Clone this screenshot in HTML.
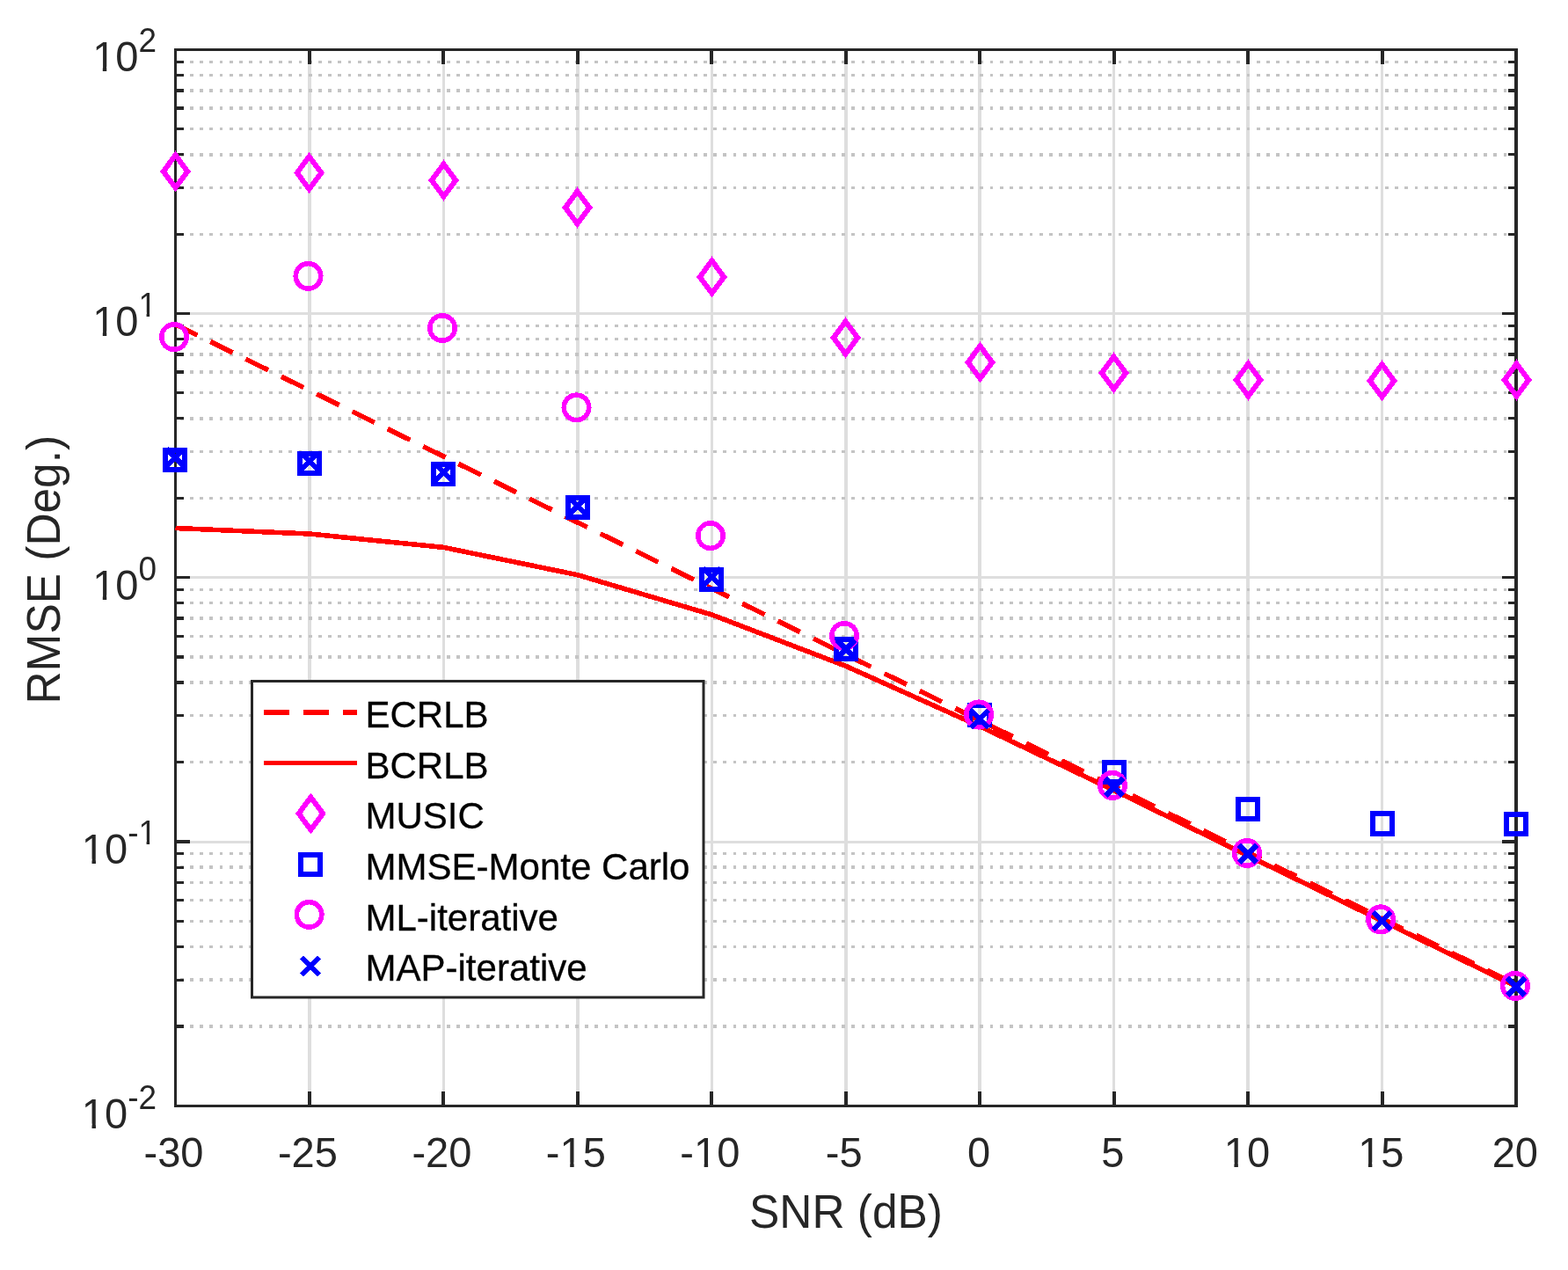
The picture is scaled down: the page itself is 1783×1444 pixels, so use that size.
<!DOCTYPE html>
<html><head><meta charset="utf-8"><title>RMSE vs SNR</title>
<style>html,body{margin:0;padding:0;background:#fff;overflow:hidden;}svg{display:block;}text{font-family:"Liberation Sans", Arial, Helvetica, sans-serif;}</style>
</head><body>
<svg width="1783" height="1444" viewBox="0 0 1783 1444">
<rect width="1783" height="1444" fill="#fff"/>
<g shape-rendering="crispEdges">
<g stroke="#dedede" fill="none">
<line x1="351.95" y1="56.45" x2="351.95" y2="1257.45" stroke-width="3.6"/>
<line x1="504.4" y1="56.45" x2="504.4" y2="1257.45" stroke-width="3.6"/>
<line x1="656.85" y1="56.45" x2="656.85" y2="1257.45" stroke-width="3.6"/>
<line x1="809.3" y1="56.45" x2="809.3" y2="1257.45" stroke-width="3.6"/>
<line x1="961.75" y1="56.45" x2="961.75" y2="1257.45" stroke-width="3.6"/>
<line x1="1114.2" y1="56.45" x2="1114.2" y2="1257.45" stroke-width="3.6"/>
<line x1="1266.65" y1="56.45" x2="1266.65" y2="1257.45" stroke-width="3.6"/>
<line x1="1419.1" y1="56.45" x2="1419.1" y2="1257.45" stroke-width="3.6"/>
<line x1="1571.55" y1="56.45" x2="1571.55" y2="1257.45" stroke-width="3.6"/>
<line x1="199.5" y1="356.5" x2="1724" y2="356.5" stroke-width="3"/>
<line x1="199.5" y1="656.5" x2="1724" y2="656.5" stroke-width="3"/>
<line x1="199.5" y1="957" x2="1724" y2="957" stroke-width="3"/>
</g>
<g stroke="#c4c4c4" stroke-width="3.3" fill="none" stroke-dasharray="3.8 7.43">
<line x1="204.77" y1="266.19" x2="1724" y2="266.19"/>
<line x1="204.77" y1="213.36" x2="1724" y2="213.36"/>
<line x1="204.77" y1="175.88" x2="1724" y2="175.88"/>
<line x1="204.77" y1="146.81" x2="1724" y2="146.81"/>
<line x1="204.77" y1="123.05" x2="1724" y2="123.05"/>
<line x1="204.77" y1="102.97" x2="1724" y2="102.97"/>
<line x1="204.77" y1="85.57" x2="1724" y2="85.57"/>
<line x1="204.77" y1="70.23" x2="1724" y2="70.23"/>
<line x1="204.77" y1="566.19" x2="1724" y2="566.19"/>
<line x1="204.77" y1="513.36" x2="1724" y2="513.36"/>
<line x1="204.77" y1="475.88" x2="1724" y2="475.88"/>
<line x1="204.77" y1="446.81" x2="1724" y2="446.81"/>
<line x1="204.77" y1="423.05" x2="1724" y2="423.05"/>
<line x1="204.77" y1="402.97" x2="1724" y2="402.97"/>
<line x1="204.77" y1="385.57" x2="1724" y2="385.57"/>
<line x1="204.77" y1="370.23" x2="1724" y2="370.23"/>
<line x1="204.77" y1="866.54" x2="1724" y2="866.54"/>
<line x1="204.77" y1="813.63" x2="1724" y2="813.63"/>
<line x1="204.77" y1="776.08" x2="1724" y2="776.08"/>
<line x1="204.77" y1="746.96" x2="1724" y2="746.96"/>
<line x1="204.77" y1="723.17" x2="1724" y2="723.17"/>
<line x1="204.77" y1="703.05" x2="1724" y2="703.05"/>
<line x1="204.77" y1="685.62" x2="1724" y2="685.62"/>
<line x1="204.77" y1="670.25" x2="1724" y2="670.25"/>
<line x1="204.77" y1="1167.01" x2="1724" y2="1167.01"/>
<line x1="204.77" y1="1114.1" x2="1724" y2="1114.1"/>
<line x1="204.77" y1="1076.56" x2="1724" y2="1076.56"/>
<line x1="204.77" y1="1047.44" x2="1724" y2="1047.44"/>
<line x1="204.77" y1="1023.65" x2="1724" y2="1023.65"/>
<line x1="204.77" y1="1003.54" x2="1724" y2="1003.54"/>
<line x1="204.77" y1="986.12" x2="1724" y2="986.12"/>
<line x1="204.77" y1="970.75" x2="1724" y2="970.75"/>
</g>
<g stroke="#262626" fill="none" stroke-linecap="butt">
<line x1="199.5" y1="1257.45" x2="199.5" y2="1241.05" stroke-width="3.9"/>
<line x1="199.5" y1="56.45" x2="199.5" y2="72.85" stroke-width="3.9"/>
<line x1="351.95" y1="1257.45" x2="351.95" y2="1241.05" stroke-width="3.9"/>
<line x1="351.95" y1="56.45" x2="351.95" y2="72.85" stroke-width="3.9"/>
<line x1="504.4" y1="1257.45" x2="504.4" y2="1241.05" stroke-width="3.9"/>
<line x1="504.4" y1="56.45" x2="504.4" y2="72.85" stroke-width="3.9"/>
<line x1="656.85" y1="1257.45" x2="656.85" y2="1241.05" stroke-width="3.9"/>
<line x1="656.85" y1="56.45" x2="656.85" y2="72.85" stroke-width="3.9"/>
<line x1="809.3" y1="1257.45" x2="809.3" y2="1241.05" stroke-width="3.9"/>
<line x1="809.3" y1="56.45" x2="809.3" y2="72.85" stroke-width="3.9"/>
<line x1="961.75" y1="1257.45" x2="961.75" y2="1241.05" stroke-width="3.9"/>
<line x1="961.75" y1="56.45" x2="961.75" y2="72.85" stroke-width="3.9"/>
<line x1="1114.2" y1="1257.45" x2="1114.2" y2="1241.05" stroke-width="3.9"/>
<line x1="1114.2" y1="56.45" x2="1114.2" y2="72.85" stroke-width="3.9"/>
<line x1="1266.65" y1="1257.45" x2="1266.65" y2="1241.05" stroke-width="3.9"/>
<line x1="1266.65" y1="56.45" x2="1266.65" y2="72.85" stroke-width="3.9"/>
<line x1="1419.1" y1="1257.45" x2="1419.1" y2="1241.05" stroke-width="3.9"/>
<line x1="1419.1" y1="56.45" x2="1419.1" y2="72.85" stroke-width="3.9"/>
<line x1="1571.55" y1="1257.45" x2="1571.55" y2="1241.05" stroke-width="3.9"/>
<line x1="1571.55" y1="56.45" x2="1571.55" y2="72.85" stroke-width="3.9"/>
<line x1="1724" y1="1257.45" x2="1724" y2="1241.05" stroke-width="3.9"/>
<line x1="1724" y1="56.45" x2="1724" y2="72.85" stroke-width="3.9"/>
<line x1="199.5" y1="56.5" x2="215.9" y2="56.5" stroke-width="3.2"/>
<line x1="1724" y1="56.5" x2="1707.6" y2="56.5" stroke-width="3.2"/>
<line x1="199.5" y1="356.5" x2="215.9" y2="356.5" stroke-width="3.2"/>
<line x1="1724" y1="356.5" x2="1707.6" y2="356.5" stroke-width="3.2"/>
<line x1="199.5" y1="656.5" x2="215.9" y2="656.5" stroke-width="3.2"/>
<line x1="1724" y1="656.5" x2="1707.6" y2="656.5" stroke-width="3.2"/>
<line x1="199.5" y1="957" x2="215.9" y2="957" stroke-width="3.2"/>
<line x1="1724" y1="957" x2="1707.6" y2="957" stroke-width="3.2"/>
<line x1="199.5" y1="1257.45" x2="215.9" y2="1257.45" stroke-width="3.2"/>
<line x1="1724" y1="1257.45" x2="1707.6" y2="1257.45" stroke-width="3.2"/>
<line x1="199.5" y1="266.19" x2="208.9" y2="266.19" stroke-width="3.2"/>
<line x1="1724" y1="266.19" x2="1714.6" y2="266.19" stroke-width="3.2"/>
<line x1="199.5" y1="213.36" x2="208.9" y2="213.36" stroke-width="3.2"/>
<line x1="1724" y1="213.36" x2="1714.6" y2="213.36" stroke-width="3.2"/>
<line x1="199.5" y1="175.88" x2="208.9" y2="175.88" stroke-width="3.2"/>
<line x1="1724" y1="175.88" x2="1714.6" y2="175.88" stroke-width="3.2"/>
<line x1="199.5" y1="146.81" x2="208.9" y2="146.81" stroke-width="3.2"/>
<line x1="1724" y1="146.81" x2="1714.6" y2="146.81" stroke-width="3.2"/>
<line x1="199.5" y1="123.05" x2="208.9" y2="123.05" stroke-width="3.2"/>
<line x1="1724" y1="123.05" x2="1714.6" y2="123.05" stroke-width="3.2"/>
<line x1="199.5" y1="102.97" x2="208.9" y2="102.97" stroke-width="3.2"/>
<line x1="1724" y1="102.97" x2="1714.6" y2="102.97" stroke-width="3.2"/>
<line x1="199.5" y1="85.57" x2="208.9" y2="85.57" stroke-width="3.2"/>
<line x1="1724" y1="85.57" x2="1714.6" y2="85.57" stroke-width="3.2"/>
<line x1="199.5" y1="70.23" x2="208.9" y2="70.23" stroke-width="3.2"/>
<line x1="1724" y1="70.23" x2="1714.6" y2="70.23" stroke-width="3.2"/>
<line x1="199.5" y1="566.19" x2="208.9" y2="566.19" stroke-width="3.2"/>
<line x1="1724" y1="566.19" x2="1714.6" y2="566.19" stroke-width="3.2"/>
<line x1="199.5" y1="513.36" x2="208.9" y2="513.36" stroke-width="3.2"/>
<line x1="1724" y1="513.36" x2="1714.6" y2="513.36" stroke-width="3.2"/>
<line x1="199.5" y1="475.88" x2="208.9" y2="475.88" stroke-width="3.2"/>
<line x1="1724" y1="475.88" x2="1714.6" y2="475.88" stroke-width="3.2"/>
<line x1="199.5" y1="446.81" x2="208.9" y2="446.81" stroke-width="3.2"/>
<line x1="1724" y1="446.81" x2="1714.6" y2="446.81" stroke-width="3.2"/>
<line x1="199.5" y1="423.05" x2="208.9" y2="423.05" stroke-width="3.2"/>
<line x1="1724" y1="423.05" x2="1714.6" y2="423.05" stroke-width="3.2"/>
<line x1="199.5" y1="402.97" x2="208.9" y2="402.97" stroke-width="3.2"/>
<line x1="1724" y1="402.97" x2="1714.6" y2="402.97" stroke-width="3.2"/>
<line x1="199.5" y1="385.57" x2="208.9" y2="385.57" stroke-width="3.2"/>
<line x1="1724" y1="385.57" x2="1714.6" y2="385.57" stroke-width="3.2"/>
<line x1="199.5" y1="370.23" x2="208.9" y2="370.23" stroke-width="3.2"/>
<line x1="1724" y1="370.23" x2="1714.6" y2="370.23" stroke-width="3.2"/>
<line x1="199.5" y1="866.54" x2="208.9" y2="866.54" stroke-width="3.2"/>
<line x1="1724" y1="866.54" x2="1714.6" y2="866.54" stroke-width="3.2"/>
<line x1="199.5" y1="813.63" x2="208.9" y2="813.63" stroke-width="3.2"/>
<line x1="1724" y1="813.63" x2="1714.6" y2="813.63" stroke-width="3.2"/>
<line x1="199.5" y1="776.08" x2="208.9" y2="776.08" stroke-width="3.2"/>
<line x1="1724" y1="776.08" x2="1714.6" y2="776.08" stroke-width="3.2"/>
<line x1="199.5" y1="746.96" x2="208.9" y2="746.96" stroke-width="3.2"/>
<line x1="1724" y1="746.96" x2="1714.6" y2="746.96" stroke-width="3.2"/>
<line x1="199.5" y1="723.17" x2="208.9" y2="723.17" stroke-width="3.2"/>
<line x1="1724" y1="723.17" x2="1714.6" y2="723.17" stroke-width="3.2"/>
<line x1="199.5" y1="703.05" x2="208.9" y2="703.05" stroke-width="3.2"/>
<line x1="1724" y1="703.05" x2="1714.6" y2="703.05" stroke-width="3.2"/>
<line x1="199.5" y1="685.62" x2="208.9" y2="685.62" stroke-width="3.2"/>
<line x1="1724" y1="685.62" x2="1714.6" y2="685.62" stroke-width="3.2"/>
<line x1="199.5" y1="670.25" x2="208.9" y2="670.25" stroke-width="3.2"/>
<line x1="1724" y1="670.25" x2="1714.6" y2="670.25" stroke-width="3.2"/>
<line x1="199.5" y1="1167.01" x2="208.9" y2="1167.01" stroke-width="3.2"/>
<line x1="1724" y1="1167.01" x2="1714.6" y2="1167.01" stroke-width="3.2"/>
<line x1="199.5" y1="1114.1" x2="208.9" y2="1114.1" stroke-width="3.2"/>
<line x1="1724" y1="1114.1" x2="1714.6" y2="1114.1" stroke-width="3.2"/>
<line x1="199.5" y1="1076.56" x2="208.9" y2="1076.56" stroke-width="3.2"/>
<line x1="1724" y1="1076.56" x2="1714.6" y2="1076.56" stroke-width="3.2"/>
<line x1="199.5" y1="1047.44" x2="208.9" y2="1047.44" stroke-width="3.2"/>
<line x1="1724" y1="1047.44" x2="1714.6" y2="1047.44" stroke-width="3.2"/>
<line x1="199.5" y1="1023.65" x2="208.9" y2="1023.65" stroke-width="3.2"/>
<line x1="1724" y1="1023.65" x2="1714.6" y2="1023.65" stroke-width="3.2"/>
<line x1="199.5" y1="1003.54" x2="208.9" y2="1003.54" stroke-width="3.2"/>
<line x1="1724" y1="1003.54" x2="1714.6" y2="1003.54" stroke-width="3.2"/>
<line x1="199.5" y1="986.12" x2="208.9" y2="986.12" stroke-width="3.2"/>
<line x1="1724" y1="986.12" x2="1714.6" y2="986.12" stroke-width="3.2"/>
<line x1="199.5" y1="970.75" x2="208.9" y2="970.75" stroke-width="3.2"/>
<line x1="1724" y1="970.75" x2="1714.6" y2="970.75" stroke-width="3.2"/>
</g>
<g fill="#262626">
<rect x="198" y="55" width="1528" height="3"/>
<rect x="198" y="1256" width="1528" height="3"/>
<rect x="198" y="55" width="3" height="1204"/>
<rect x="1722" y="55" width="4" height="1204"/>
</g>
</g>
<g shape-rendering="crispEdges">
<line x1="199.5" y1="368.9" x2="1724" y2="1119.4" stroke="#ff0000" stroke-width="5.6" stroke-dasharray="28.3 16.65" stroke-dashoffset="0.67" fill="none"/>
<polyline points="199.5,600.5 351.95,607 504.4,622.4 656.85,653.7 809.3,698.9 961.75,757.3 1114.2,825.8 1266.65,898.6 1419.1,973 1571.55,1047 1724,1121.5" stroke="#ff0000" stroke-width="5.6" fill="none" stroke-linejoin="miter"/>
<g>
<path d="M199.5 176.4L213.23 194.9L199.5 213.4L185.77 194.9Z" fill="none" stroke="#ff00ff" stroke-width="6" stroke-linejoin="miter" stroke-miterlimit="10"/>
<path d="M351.55 178L365.28 196.5L351.55 215L337.82 196.5Z" fill="none" stroke="#ff00ff" stroke-width="6" stroke-linejoin="miter" stroke-miterlimit="10"/>
<path d="M504.5 186.5L518.23 205L504.5 223.5L490.77 205Z" fill="none" stroke="#ff00ff" stroke-width="6" stroke-linejoin="miter" stroke-miterlimit="10"/>
<path d="M656.5 217.5L670.23 236L656.5 254.5L642.77 236Z" fill="none" stroke="#ff00ff" stroke-width="6" stroke-linejoin="miter" stroke-miterlimit="10"/>
<path d="M809.5 296.4L823.23 314.9L809.5 333.4L795.77 314.9Z" fill="none" stroke="#ff00ff" stroke-width="6" stroke-linejoin="miter" stroke-miterlimit="10"/>
<path d="M961.5 365.5L975.23 384L961.5 402.5L947.77 384Z" fill="none" stroke="#ff00ff" stroke-width="6" stroke-linejoin="miter" stroke-miterlimit="10"/>
<path d="M1114.5 393.4L1128.23 411.9L1114.5 430.4L1100.77 411.9Z" fill="none" stroke="#ff00ff" stroke-width="6" stroke-linejoin="miter" stroke-miterlimit="10"/>
<path d="M1266.5 405.5L1280.23 424L1266.5 442.5L1252.77 424Z" fill="none" stroke="#ff00ff" stroke-width="6" stroke-linejoin="miter" stroke-miterlimit="10"/>
<path d="M1419.5 413.5L1433.23 432L1419.5 450.5L1405.77 432Z" fill="none" stroke="#ff00ff" stroke-width="6" stroke-linejoin="miter" stroke-miterlimit="10"/>
<path d="M1571.5 414.4L1585.23 432.9L1571.5 451.4L1557.77 432.9Z" fill="none" stroke="#ff00ff" stroke-width="6" stroke-linejoin="miter" stroke-miterlimit="10"/>
<path d="M1724.5 413.5L1738.23 432L1724.5 450.5L1710.77 432Z" fill="none" stroke="#ff00ff" stroke-width="6" stroke-linejoin="miter" stroke-miterlimit="10"/>
<rect x="187.8" y="511.7" width="22.4" height="22.4" fill="none" stroke="#0000ff" stroke-width="5.7"/>
<rect x="340.8" y="515.7" width="22.4" height="22.4" fill="none" stroke="#0000ff" stroke-width="5.7"/>
<rect x="492.8" y="528.2" width="22.4" height="22.4" fill="none" stroke="#0000ff" stroke-width="5.7"/>
<rect x="645.8" y="565.8" width="22.4" height="22.4" fill="none" stroke="#0000ff" stroke-width="5.7"/>
<rect x="797.8" y="647.8" width="22.4" height="22.4" fill="none" stroke="#0000ff" stroke-width="5.7"/>
<rect x="950.8" y="726.7" width="22.4" height="22.4" fill="none" stroke="#0000ff" stroke-width="5.7"/>
<rect x="1102.8" y="801.8" width="22.4" height="22.4" fill="none" stroke="#0000ff" stroke-width="5.7"/>
<rect x="1255.8" y="866.8" width="22.4" height="22.4" fill="none" stroke="#0000ff" stroke-width="5.7"/>
<rect x="1407.8" y="908.8" width="22.4" height="22.4" fill="none" stroke="#0000ff" stroke-width="5.7"/>
<rect x="1560.8" y="925.3" width="22.4" height="22.4" fill="none" stroke="#0000ff" stroke-width="5.7"/>
<rect x="1712.8" y="925.8" width="22.4" height="22.4" fill="none" stroke="#0000ff" stroke-width="5.7"/>
<circle cx="198" cy="383.1" r="14.25" fill="none" stroke="#ff00ff" stroke-width="5.6"/>
<circle cx="350.5" cy="313.9" r="14.25" fill="none" stroke="#ff00ff" stroke-width="5.6"/>
<circle cx="503" cy="373" r="14.25" fill="none" stroke="#ff00ff" stroke-width="5.6"/>
<circle cx="655.5" cy="463.4" r="14.25" fill="none" stroke="#ff00ff" stroke-width="5.6"/>
<circle cx="807.95" cy="609.1" r="14.25" fill="none" stroke="#ff00ff" stroke-width="5.6"/>
<circle cx="960" cy="723" r="14.25" fill="none" stroke="#ff00ff" stroke-width="5.6"/>
<circle cx="1113" cy="812.5" r="14.25" fill="none" stroke="#ff00ff" stroke-width="5.6"/>
<circle cx="1265" cy="892.9" r="14.25" fill="none" stroke="#ff00ff" stroke-width="5.6"/>
<circle cx="1417.9" cy="970" r="14.25" fill="none" stroke="#ff00ff" stroke-width="5.6"/>
<circle cx="1570.1" cy="1045.4" r="14.25" fill="none" stroke="#ff00ff" stroke-width="5.6"/>
<circle cx="1722.9" cy="1120.9" r="14.25" fill="none" stroke="#ff00ff" stroke-width="5.6"/>
<path d="M189.4 510.5L209.4 530.5M189.4 530.5L209.4 510.5" stroke="#0000ff" stroke-width="5.8" fill="none" stroke-linecap="butt"/>
<path d="M342 514.6L362 534.6M342 534.6L362 514.6" stroke="#0000ff" stroke-width="5.8" fill="none" stroke-linecap="butt"/>
<path d="M494.5 527.4L514.5 547.4M494.5 547.4L514.5 527.4" stroke="#0000ff" stroke-width="5.8" fill="none" stroke-linecap="butt"/>
<path d="M646.8 565.3L666.8 585.3M646.8 585.3L666.8 565.3" stroke="#0000ff" stroke-width="5.8" fill="none" stroke-linecap="butt"/>
<path d="M799.5 646.3L819.5 666.3M799.5 666.3L819.5 646.3" stroke="#0000ff" stroke-width="5.8" fill="none" stroke-linecap="butt"/>
<path d="M952 728L972 748M952 748L972 728" stroke="#0000ff" stroke-width="5.8" fill="none" stroke-linecap="butt"/>
<path d="M1104.2 807.4L1124.2 827.4M1104.2 827.4L1124.2 807.4" stroke="#0000ff" stroke-width="5.8" fill="none" stroke-linecap="butt"/>
<path d="M1257 885L1277 905M1257 905L1277 885" stroke="#0000ff" stroke-width="5.8" fill="none" stroke-linecap="butt"/>
<path d="M1409 961L1429 981M1409 981L1429 961" stroke="#0000ff" stroke-width="5.8" fill="none" stroke-linecap="butt"/>
<path d="M1561.8 1037L1581.8 1057M1561.8 1057L1581.8 1037" stroke="#0000ff" stroke-width="5.8" fill="none" stroke-linecap="butt"/>
<path d="M1714 1112L1734 1132M1714 1132L1734 1112" stroke="#0000ff" stroke-width="5.8" fill="none" stroke-linecap="butt"/>
</g>
</g>
<g fill="#262626" font-size="49">
<g transform="translate(197.5 1326.9) scale(0.96 1)"><text x="-35.41" y="0">-30</text></g>
<g transform="translate(349.95 1326.9) scale(0.96 1)"><text x="-35.41" y="0">-25</text></g>
<g transform="translate(502.4 1326.9) scale(0.96 1)"><text x="-35.41" y="0">-20</text></g>
<g transform="translate(654.85 1326.9) scale(0.96 1)"><text x="-35.41" y="0">-15</text><g fill="#fff"><rect x="-17.66" y="-5.26" width="10.74" height="6.26"/><rect x="-2.29" y="-5.26" width="10.38" height="6.26"/></g></g>
<g transform="translate(807.3 1326.9) scale(0.96 1)"><text x="-35.41" y="0">-10</text><g fill="#fff"><rect x="-17.66" y="-5.26" width="10.74" height="6.26"/><rect x="-2.29" y="-5.26" width="10.38" height="6.26"/></g></g>
<g transform="translate(959.75 1326.9) scale(0.96 1)"><text x="-21.78" y="0">-5</text></g>
<g transform="translate(1113 1326.9) scale(0.96 1)"><text x="-13.63" y="0">0</text></g>
<g transform="translate(1265.45 1326.9) scale(0.96 1)"><text x="-13.63" y="0">5</text></g>
<g transform="translate(1417.9 1326.9) scale(0.96 1)"><text x="-27.25" y="0">10</text><g fill="#fff"><rect x="-25.82" y="-5.26" width="10.74" height="6.26"/><rect x="-10.45" y="-5.26" width="10.38" height="6.26"/></g></g>
<g transform="translate(1570.35 1326.9) scale(0.96 1)"><text x="-27.25" y="0">15</text><g fill="#fff"><rect x="-25.82" y="-5.26" width="10.74" height="6.26"/><rect x="-10.45" y="-5.26" width="10.38" height="6.26"/></g></g>
<g transform="translate(1722.8 1326.9) scale(0.96 1)"><text x="-27.25" y="0">20</text></g>
<g transform="translate(178 81) scale(0.96 1)"><text x="-75.91" y="0">10<tspan dy="-22.2" font-size="38.5">2</tspan></text><g fill="#fff"><rect x="-74.48" y="-5.26" width="10.74" height="6.26"/><rect x="-59.11" y="-5.26" width="10.38" height="6.26"/></g></g>
<g transform="translate(178 381.9) scale(0.96 1)"><text x="-75.91" y="0">10<tspan dy="-22.2" font-size="38.5">1</tspan></text><g fill="#fff"><rect x="-74.48" y="-5.26" width="10.74" height="6.26"/><rect x="-59.11" y="-5.26" width="10.38" height="6.26"/><rect x="-20.28" y="-26.68" width="8.4" height="5.48"/><rect x="-8.18" y="-26.68" width="8.16" height="5.48"/></g></g>
<g transform="translate(178 681.8) scale(0.96 1)"><text x="-75.91" y="0">10<tspan dy="-22.2" font-size="38.5">0</tspan></text><g fill="#fff"><rect x="-74.48" y="-5.26" width="10.74" height="6.26"/><rect x="-59.11" y="-5.26" width="10.38" height="6.26"/></g></g>
<g transform="translate(178 981.9) scale(0.96 1)"><text x="-88.74" y="0">10<tspan dy="-22.2" font-size="38.5">-1</tspan></text><g fill="#fff"><rect x="-87.3" y="-5.26" width="10.74" height="6.26"/><rect x="-71.93" y="-5.26" width="10.38" height="6.26"/><rect x="-20.28" y="-26.68" width="8.4" height="5.48"/><rect x="-8.18" y="-26.68" width="8.16" height="5.48"/></g></g>
<g transform="translate(178 1282.85) scale(0.96 1)"><text x="-88.74" y="0">10<tspan dy="-22.2" font-size="38.5">-2</tspan></text><g fill="#fff"><rect x="-87.3" y="-5.26" width="10.74" height="6.26"/><rect x="-71.93" y="-5.26" width="10.38" height="6.26"/></g></g>
</g>
<text transform="translate(962 1395.8) scale(0.97 1)" fill="#262626" font-size="53" text-anchor="middle">SNR (dB)</text>
<text transform="translate(68.3 647.7) rotate(-90) scale(0.97 1)" fill="#262626" font-size="53" text-anchor="middle">RMSE (Deg.)</text>
<rect x="286.5" y="774.5" width="513.5" height="359.5" fill="#fff" stroke="#262626" stroke-width="3"/>
<g shape-rendering="crispEdges">
<line x1="299.9" y1="810" x2="405.9" y2="810" stroke="#ff0000" stroke-width="5.6" stroke-dasharray="29 16"/>
<line x1="299.9" y1="867.4" x2="405.9" y2="867.4" stroke="#ff0000" stroke-width="5.6"/>
<path d="M353.4 906.5L367.13 925L353.4 943.5L339.67 925Z" fill="none" stroke="#ff00ff" stroke-width="6" stroke-linejoin="miter" stroke-miterlimit="10"/>
<rect x="341.8" y="971.8" width="22.4" height="22.4" fill="none" stroke="#0000ff" stroke-width="5.7"/>
<circle cx="351.6" cy="1039.9" r="14.25" fill="none" stroke="#ff00ff" stroke-width="5.6"/>
<path d="M343 1088.9L363 1108.9M343 1108.9L363 1088.9" stroke="#0000ff" stroke-width="5.8" fill="none" stroke-linecap="butt"/>
</g>
<g fill="#000" stroke="#000" stroke-width="0.3" font-size="43">
<text transform="translate(415.4 826.8) scale(0.978 1)">ECRLB</text>
<text transform="translate(415.4 884.5) scale(0.978 1)">BCRLB</text>
<text transform="translate(415.4 942.2) scale(0.978 1)">MUSIC</text>
<text transform="translate(415.4 999.9) scale(0.978 1)">MMSE-Monte Carlo</text>
<text transform="translate(415.4 1057.6) scale(0.978 1)">ML-iterative</text>
<text transform="translate(415.4 1115.3) scale(0.978 1)">MAP-iterative</text>
</g>
</svg>
</body></html>
